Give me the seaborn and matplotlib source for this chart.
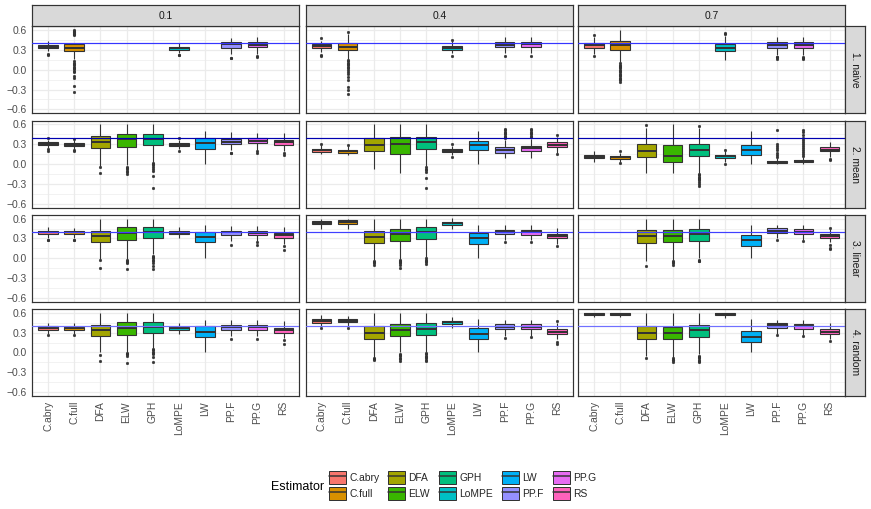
import pandas as pd
import matplotlib.pyplot as plt
import seaborn as sns
from matplotlib.patches import Patch
from matplotlib.lines import Line2D

estimators = ["C.abry", "C.full", "DFA", "ELW", "GPH", "LoMPE", "LW", "PP.F", "PP.G", "RS"]
palette = ["#F8766D", "#D89000", "#A3A500", "#39B600", "#00BF7D",
           "#00BFC4", "#00B0F6", "#9590FF", "#E76BF3", "#FF62BC"]
d_values = ["0.1", "0.4", "0.7"]
methods = ["1. naive", "2. mean", "3. linear", "4. random"]
true_d = 0.4
hline_colours = ["#3535ff", "#0000b0", "#4040ff", "#7070ff"]

# box summaries: (estimator, lower whisker, q1, median, q3, upper whisker, outliers)
naive_01 = [
    ("C.abry", 0.29, 0.325, 0.35, 0.375, 0.43, [0.245, 0.23]),
    ("C.full", 0.17, 0.29, 0.335, 0.385, 0.53,
     [0.54, 0.55, 0.56, 0.57, 0.58, 0.59, 0.60, 0.13, 0.11, 0.09, 0.07, 0.05, 0.03,
      0.01, -0.02, -0.04, -0.10, -0.13, -0.25, -0.34]),
    ("LoMPE", 0.25, 0.30, 0.325, 0.345, 0.41, [0.23, 0.225]),
    ("PP.F", 0.24, 0.33, 0.385, 0.42, 0.49, [0.185, 0.18]),
    ("PP.G", 0.24, 0.34, 0.375, 0.42, 0.50, [0.21, 0.19]),
]
naive_04 = [
    ("C.abry", 0.27, 0.325, 0.356, 0.386, 0.44, [0.48, 0.23, 0.21]),
    ("C.full", 0.17, 0.305, 0.35, 0.407, 0.55,
     [0.575, 0.15, 0.13, 0.11, 0.09, 0.07, 0.05, 0.02, 0.0, -0.03, -0.06, -0.11,
      -0.16, -0.26, -0.31, -0.37]),
    ("LoMPE", 0.25, 0.30, 0.33, 0.36, 0.43, [0.455, 0.205]),
    ("PP.F", 0.26, 0.34, 0.38, 0.417, 0.50, [0.21]),
    ("PP.G", 0.26, 0.345, 0.385, 0.42, 0.50, [0.21]),
]
naive_07 = [
    ("C.abry", 0.24, 0.33, 0.37, 0.41, 0.50, [0.535, 0.205]),
    ("C.full", 0.12, 0.305, 0.37, 0.437, 0.60,
     [0.10, 0.08, 0.06, 0.04, 0.02, 0.0, -0.02, -0.04, -0.06, -0.08, -0.10, -0.12,
      -0.14, -0.16, -0.19]),
    ("LoMPE", 0.15, 0.285, 0.335, 0.386, 0.52, [0.545, 0.56]),
    ("PP.F", 0.23, 0.335, 0.38, 0.42, 0.50, [0.20, 0.19, 0.17]),
    ("PP.G", 0.23, 0.335, 0.38, 0.42, 0.50, [0.20, 0.18, 0.17]),
]

mean_01 = [
    ("C.abry", 0.24, 0.29, 0.31, 0.33, 0.37, [0.395, 0.225, 0.20]),
    ("C.full", 0.23, 0.275, 0.295, 0.315, 0.36, [0.38, 0.21, 0.20]),
    ("DFA", -0.025, 0.24, 0.34, 0.42, 0.60, [-0.04, -0.13]),
    ("ELW", -0.02, 0.265, 0.38, 0.46, 0.60, [-0.04, -0.06, -0.08, -0.10, -0.12, -0.15]),
    ("GPH", 0.025, 0.285, 0.38, 0.46, 0.60,
     [0.015, 0.0, -0.02, -0.04, -0.07, -0.11, -0.18, -0.36]),
    ("LoMPE", 0.23, 0.275, 0.295, 0.32, 0.37, [0.39, 0.20]),
    ("LW", 0.0, 0.235, 0.315, 0.40, 0.50, []),
    ("PP.F", 0.22, 0.30, 0.33, 0.385, 0.49, [0.17, 0.165]),
    ("PP.G", 0.22, 0.315, 0.355, 0.39, 0.47, [0.19, 0.17]),
    ("RS", 0.20, 0.29, 0.335, 0.37, 0.47, [0.16, 0.13]),
]
mean_04 = [
    ("C.abry", 0.15, 0.18, 0.21, 0.23, 0.29, [0.31]),
    ("C.full", 0.14, 0.17, 0.19, 0.215, 0.28, [0.29, 0.13]),
    ("DFA", -0.08, 0.20, 0.285, 0.39, 0.60, []),
    ("ELW", -0.14, 0.155, 0.31, 0.415, 0.60, []),
    ("GPH", -0.025, 0.235, 0.335, 0.415, 0.60, [-0.05, -0.07, -0.09, -0.12, -0.21, -0.36]),
    ("LoMPE", 0.13, 0.18, 0.20, 0.225, 0.28, [0.30, 0.11]),
    ("LW", 0.0, 0.205, 0.285, 0.355, 0.50, []),
    ("PP.F", 0.085, 0.17, 0.215, 0.255, 0.37, [0.39, 0.41, 0.43, 0.45, 0.47, 0.49, 0.51, 0.53]),
    ("PP.G", 0.09, 0.19, 0.245, 0.275, 0.38, [0.41, 0.43, 0.45, 0.47, 0.49, 0.51, 0.53]),
    ("RS", 0.17, 0.26, 0.295, 0.33, 0.41, [0.44, 0.15]),
]
mean_07 = [
    ("C.abry", 0.025, 0.086, 0.11, 0.137, 0.20, []),
    ("C.full", 0.03, 0.08, 0.10, 0.12, 0.17, [0.19, 0.015]),
    ("DFA", -0.13, 0.11, 0.20, 0.30, 0.55, [0.59]),
    ("ELW", -0.14, 0.025, 0.12, 0.285, 0.60, []),
    ("GPH", -0.13, 0.127, 0.21, 0.305, 0.55,
     [0.575, -0.15, -0.17, -0.19, -0.21, -0.23, -0.25, -0.27, -0.30, -0.33]),
    ("LoMPE", 0.03, 0.09, 0.117, 0.14, 0.19, [0.22, 0.005]),
    ("LW", 0.0, 0.13, 0.21, 0.29, 0.50, []),
    ("PP.F", 0.0, 0.015, 0.03, 0.045, 0.085, [0.11, 0.14, 0.17, 0.22, 0.25, 0.27, 0.30, 0.51]),
    ("PP.G", 0.0, 0.025, 0.045, 0.06, 0.10,
     [0.12, 0.15, 0.18, 0.21, 0.24, 0.27, 0.30, 0.33, 0.36, 0.40, 0.44, 0.48, 0.51]),
    ("RS", 0.10, 0.19, 0.22, 0.254, 0.33, [0.075, 0.065]),
]

linear_01 = [
    ("C.abry", 0.30, 0.366, 0.39, 0.417, 0.47, [0.28, 0.27]),
    ("C.full", 0.30, 0.366, 0.39, 0.417, 0.46, [0.28, 0.27]),
    ("DFA", -0.015, 0.245, 0.335, 0.42, 0.60, [-0.03, -0.15]),
    ("ELW", -0.01, 0.275, 0.38, 0.47, 0.60, [-0.02, -0.04, -0.06, -0.08, -0.16]),
    ("GPH", 0.06, 0.30, 0.395, 0.47, 0.60, [0.04, 0.02, 0.0, -0.02, -0.04, -0.08, -0.12, -0.16]),
    ("LoMPE", 0.30, 0.36, 0.385, 0.41, 0.47, []),
    ("LW", 0.0, 0.24, 0.315, 0.405, 0.50, []),
    ("PP.F", 0.26, 0.35, 0.39, 0.42, 0.49, [0.20]),
    ("PP.G", 0.26, 0.35, 0.385, 0.42, 0.49, [0.24, 0.20]),
    ("RS", 0.22, 0.305, 0.345, 0.386, 0.47, [0.18, 0.13]),
]
linear_04 = [
    ("C.abry", 0.44, 0.513, 0.54, 0.57, 0.60, []),
    ("C.full", 0.45, 0.524, 0.555, 0.58, 0.60, []),
    ("DFA", -0.025, 0.234, 0.325, 0.417, 0.60, [-0.045, -0.06, -0.08, -0.10]),
    ("ELW", -0.005, 0.265, 0.366, 0.45, 0.60, [-0.02, -0.04, -0.06, -0.08, -0.11, -0.15]),
    ("GPH", 0.02, 0.285, 0.39, 0.47, 0.60, [0.0, -0.02, -0.04, -0.06, -0.09]),
    ("LoMPE", 0.44, 0.50, 0.53, 0.55, 0.61, []),
    ("LW", 0.0, 0.22, 0.30, 0.38, 0.50, []),
    ("PP.F", 0.28, 0.36, 0.397, 0.427, 0.50, [0.25]),
    ("PP.G", 0.28, 0.356, 0.39, 0.427, 0.50, [0.24]),
    ("RS", 0.22, 0.30, 0.335, 0.37, 0.46, [0.18]),
]
linear_07 = [
    ("DFA", -0.04, 0.234, 0.33, 0.427, 0.60, [-0.125]),
    ("ELW", -0.03, 0.24, 0.33, 0.427, 0.60, [-0.045, -0.06, -0.08, -0.10]),
    ("GPH", 0.0, 0.265, 0.366, 0.45, 0.60, [-0.02, -0.04, -0.05]),
    ("LW", 0.0, 0.19, 0.27, 0.35, 0.50, []),
    ("PP.F", 0.30, 0.386, 0.42, 0.457, 0.50, [0.27]),
    ("PP.G", 0.28, 0.37, 0.405, 0.437, 0.50, [0.26]),
    ("RS", 0.24, 0.305, 0.335, 0.366, 0.44, [0.46, 0.20, 0.16, 0.14]),
]

random_01 = [
    ("C.abry", 0.28, 0.345, 0.37, 0.395, 0.45, [0.26]),
    ("C.full", 0.28, 0.34, 0.365, 0.385, 0.445, [0.265]),
    ("DFA", 0.01, 0.245, 0.335, 0.42, 0.60, [-0.04, -0.125]),
    ("ELW", 0.0, 0.27, 0.365, 0.455, 0.60, [-0.01, -0.02, -0.03, -0.05, -0.16]),
    ("GPH", 0.06, 0.295, 0.385, 0.455, 0.60, [0.05, 0.03, 0.01, -0.01, -0.03, -0.065, -0.14]),
    ("LoMPE", 0.28, 0.34, 0.365, 0.39, 0.45, []),
    ("LW", 0.0, 0.235, 0.315, 0.395, 0.495, []),
    ("PP.F", 0.25, 0.345, 0.38, 0.415, 0.495, [0.21]),
    ("PP.G", 0.25, 0.345, 0.38, 0.42, 0.495, [0.21]),
    ("RS", 0.22, 0.30, 0.34, 0.37, 0.47, [0.185, 0.135]),
]
random_04 = [
    ("C.abry", 0.39, 0.45, 0.48, 0.50, 0.56, [0.37]),
    ("C.full", 0.39, 0.455, 0.48, 0.505, 0.55, [0.375]),
    ("DFA", -0.08, 0.21, 0.30, 0.405, 0.60, [-0.09, -0.10, -0.115]),
    ("ELW", 0.0, 0.25, 0.345, 0.43, 0.60, [-0.025, -0.04, -0.06, -0.08, -0.10, -0.13]),
    ("GPH", 0.01, 0.27, 0.36, 0.45, 0.60, [-0.01, -0.03, -0.05, -0.07, -0.09, -0.11, -0.13]),
    ("LoMPE", 0.37, 0.43, 0.455, 0.48, 0.535, []),
    ("LW", 0.0, 0.21, 0.285, 0.37, 0.50, []),
    ("PP.F", 0.25, 0.35, 0.39, 0.425, 0.495, [0.225]),
    ("PP.G", 0.25, 0.35, 0.39, 0.425, 0.495, [0.235]),
    ("RS", 0.20, 0.28, 0.315, 0.35, 0.44, [0.47, 0.16, 0.13]),
]
random_07 = [
    ("C.abry", 0.535, 0.57, 0.585, 0.60, 0.605, []),
    ("C.full", 0.535, 0.57, 0.585, 0.60, 0.605, []),
    ("DFA", -0.06, 0.21, 0.30, 0.395, 0.60, [-0.08]),
    ("ELW", -0.08, 0.20, 0.30, 0.39, 0.60, [-0.09, -0.11, -0.12, -0.14]),
    ("GPH", -0.03, 0.235, 0.335, 0.42, 0.60, [-0.05, -0.07, -0.09, -0.11, -0.13, -0.14]),
    ("LoMPE", 0.525, 0.565, 0.58, 0.595, 0.60, []),
    ("LW", 0.0, 0.16, 0.24, 0.32, 0.50, []),
    ("PP.F", 0.28, 0.375, 0.41, 0.44, 0.495, [0.27]),
    ("PP.G", 0.27, 0.36, 0.40, 0.435, 0.495, [0.245]),
    ("RS", 0.20, 0.28, 0.315, 0.35, 0.44, [0.17]),
]

panels = {
    ("1. naive", "0.1"): naive_01, ("1. naive", "0.4"): naive_04, ("1. naive", "0.7"): naive_07,
    ("2. mean", "0.1"): mean_01, ("2. mean", "0.4"): mean_04, ("2. mean", "0.7"): mean_07,
    ("3. linear", "0.1"): linear_01, ("3. linear", "0.4"): linear_04, ("3. linear", "0.7"): linear_07,
    ("4. random", "0.1"): random_01, ("4. random", "0.4"): random_04, ("4. random", "0.7"): random_07,
}


def box_sample(lo, q1, med, q3, hi, out):
    # a sample whose quartiles / whiskers / outliers reproduce the read summary
    low = sorted(v for v in out if v < q1)
    high = sorted(v for v in out if v > q3)
    return low + [lo] + [q1] * 40 + [med] * 40 + [q3] * 40 + [hi] + high


records = []
for (method, d), boxes in panels.items():
    for est, lo, q1, med, q3, hi, out in boxes:
        for v in box_sample(lo, q1, med, q3, hi, out):
            records.append((method, d, est, v))
df = pd.DataFrame(records, columns=["method", "d", "Estimator", "value"])

sns.set_theme(style="white")
plt.rcParams["font.family"] = ["Liberation Sans", "DejaVu Sans"]

W, H = 871, 509
fig = plt.figure(figsize=(W / 72, H / 72), dpi=72)

col_left = [32.3, 305.7, 578.3]
panel_w = 267
row_top = [26.3, 120.5, 214.7, 308.9]
panel_h = 87
strip_h = 21
fs = 10.3
edge = "#333333"


def fig_rect(x, y_top, w, h):
    return [x / W, 1 - (y_top + h) / H, w / W, h / H]


def strip_axes(rect, label, rotation):
    sax = fig.add_axes(rect)
    sax.set_facecolor("#D9D9D9")
    sax.set_xticks([])
    sax.set_yticks([])
    for sp in sax.spines.values():
        sp.set_color(edge)
        sp.set_linewidth(1.2)
    sax.text(0.5, 0.5, label, ha="center", va="center", rotation=rotation,
             fontsize=fs, color="#1A1A1A", transform=sax.transAxes)


for i, method in enumerate(methods):
    for j, d in enumerate(d_values):
        ax = fig.add_axes(fig_rect(col_left[j], row_top[i], panel_w, panel_h))
        sub = df[(df.method == method) & (df.d == d)]
        sns.boxplot(data=sub, x="Estimator", y="value", hue="Estimator",
                    order=estimators, hue_order=estimators, palette=palette,
                    saturation=1, width=0.75, linewidth=1.1, linecolor=edge,
                    legend=False, showcaps=False, ax=ax,
                    medianprops=dict(linewidth=2.0),
                    flierprops=dict(marker="o", markersize=2.8, markerfacecolor=edge,
                                    markeredgecolor=edge, markeredgewidth=0.3))
        ax.axhline(true_d, color=hline_colours[i], lw=1.2, zorder=6)

        ax.set_xlim(-0.6, 9.6)
        ax.set_ylim(-0.66, 0.66)
        ax.set_yticks([-0.6, -0.3, 0.0, 0.3, 0.6])
        ax.set_yticks([-0.45, -0.15, 0.15, 0.45], minor=True)
        ax.set_xticks(range(len(estimators)))
        ax.set_axisbelow(True)
        ax.grid(which="major", color="#EBEBEB", lw=1.3)
        ax.grid(which="minor", axis="y", color="#EBEBEB", lw=0.65)
        ax.set_xlabel("")
        ax.set_ylabel("")
        for sp in ax.spines.values():
            sp.set_color(edge)
            sp.set_linewidth(1.2)
        ax.tick_params(which="minor", length=0)
        ax.tick_params(which="major", length=3.2, width=1.0, color=edge,
                       labelsize=fs, labelcolor="#4D4D4D", pad=2)
        if j == 0:
            ax.set_yticklabels(["\u22120.6", "\u22120.3", "0.0", "0.3", "0.6"])
        else:
            ax.tick_params(axis="y", length=0, labelleft=False)
        if i == len(methods) - 1:
            ax.set_xticklabels(estimators, rotation=90)
        else:
            ax.tick_params(axis="x", length=0, labelbottom=False)

        if i == 0:
            strip_axes(fig_rect(col_left[j], row_top[0] - strip_h, panel_w, strip_h), d, 0)
        if j == len(d_values) - 1:
            strip_axes(fig_rect(col_left[j] + panel_w, row_top[i], 19.5, panel_h), method, -90)

handles = [(Patch(facecolor=c, edgecolor=edge, lw=1.0),
            Line2D([0], [0], color=edge, lw=1.5)) for c in palette]
fig.legend(handles, estimators, loc="center left", bbox_to_anchor=(329 / W, 1 - 485.5 / H),
           ncol=5, frameon=False, fontsize=fs, handlelength=1.65, handleheight=1.65,
           handletextpad=0.3, columnspacing=0.9, labelspacing=0.2,
           borderpad=0, borderaxespad=0)
fig.text(324 / W, 1 - 487 / H, "Estimator", fontsize=12.5, va="center", ha="right", color="black")

fig.savefig("out.png", dpi=72)
